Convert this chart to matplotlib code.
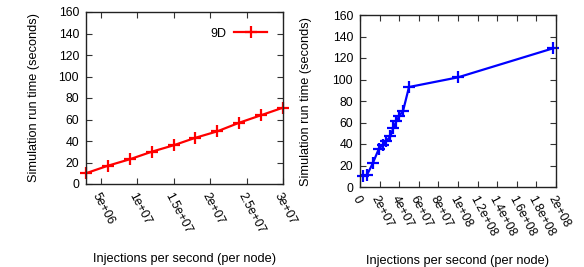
import matplotlib
matplotlib.use("Agg")
import matplotlib.pyplot as plt

# Left chart data (9D)
left_x = [3e6, 6e6, 9e6, 12e6, 15e6, 18e6, 21e6, 24e6, 27e6, 30e6]
left_y = [10, 17, 23, 30, 36, 43, 49, 57, 64, 71]
left_ticks = [5e6, 1e7, 1.5e7, 2e7, 2.5e7, 3e7]
left_ticklabels = ["5e+06", "1e+07", "1.5e+07", "2e+07", "2.5e+07", "3e+07"]

# Right chart data
right_x = [3e6, 7e6, 13e6, 19e6, 23e6, 27e6, 31e6, 34e6, 37e6, 40e6, 44e6, 50e6, 100e6, 197e6]
right_y = [10, 11, 22, 35, 39, 43, 47, 55, 61, 66, 71, 93, 102, 129]
right_ticks = [0, 2e7, 4e7, 6e7, 8e7, 1e8, 1.2e8, 1.4e8, 1.6e8, 1.8e8, 2e8]
right_ticklabels = ["0", "2e+07", "4e+07", "6e+07", "8e+07", "1e+08", "1.2e+08",
                    "1.4e+08", "1.6e+08", "1.8e+08", "2e+08"]

y_ticks = [0, 20, 40, 60, 80, 100, 120, 140, 160]
legend_label = "9D"
xlabel = "Injections per second (per node)"
ylabel = "Simulation run time (seconds)"

plt.rcParams['font.family'] = ['Liberation Sans', 'DejaVu Sans']

W, H = 584, 267
fig = plt.figure(figsize=(W / 100, H / 100), dpi=100)

def make_ax(l, t, r, b):
    return fig.add_axes([l / W, 1 - b / H, (r - l) / W, (b - t) / H])

ax1 = make_ax(86, 12, 283, 184)
ax2 = make_ax(360, 15, 556, 187)

def style(ax, xticks, xlabels, xlim):
    ax.set_xlim(*xlim)
    ax.set_ylim(0, 160)
    ax.set_yticks(y_ticks)
    ax.set_yticklabels([str(v) for v in y_ticks], fontsize=8.8)
    ax.set_xticks(xticks)
    ax.set_xticklabels(xlabels, fontsize=8.8, rotation=-62,
                       ha='left', va='top', rotation_mode='anchor')
    ax.tick_params(direction='in', top=True, right=True, length=4, width=0.8,
                   color='#333333', pad=5)
    for s in ax.spines.values():
        s.set_linewidth(1.0)
        s.set_color('#222222')
    ax.set_xlabel(xlabel, fontsize=9.2)
    ax.set_ylabel(ylabel, fontsize=9.2)

ax1.plot(left_x, left_y, color='#ff0000', lw=1.6, marker='+', ms=9, mew=1.6,
         label=legend_label, clip_on=False)
style(ax1, left_ticks, left_ticklabels, (3e6, 3e7))
ax1.legend(loc='upper right', frameon=False, fontsize=9, handlelength=2.7,
           markerfirst=False, bbox_to_anchor=(1.0, 1.0), borderaxespad=0.85,
           handletextpad=0.6)
ax1.xaxis.set_label_coords(0.5, -0.40)
ax1.yaxis.set_label_coords(-0.235, 0.5)

ax2.plot(right_x, right_y, color='#0000ff', lw=1.6, marker='+', ms=9, mew=1.6,
         clip_on=False)
style(ax2, right_ticks, right_ticklabels, (0, 2e8))
ax2.xaxis.set_label_coords(0.5, -0.395)
ax2.yaxis.set_label_coords(-0.245, 0.5)

fig.savefig("out.png", dpi=100)
